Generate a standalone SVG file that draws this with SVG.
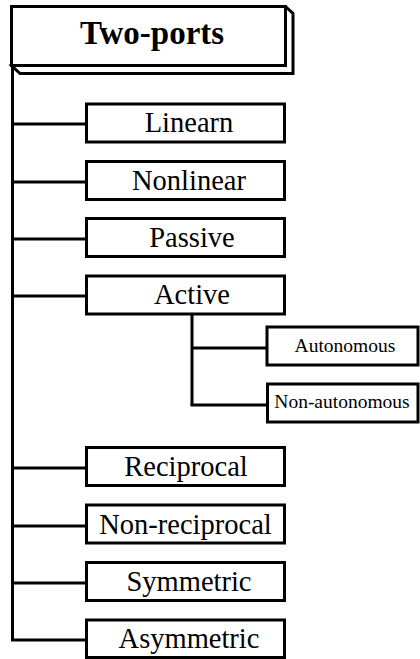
<svg xmlns="http://www.w3.org/2000/svg" width="420" height="659" viewBox="0 0 420 659">
  <style>
    .box { fill: #ffffff; stroke: #000000; stroke-width: 3; }
    .wire { fill: none; stroke: #000000; stroke-width: 3; }
    text { font-family: "Liberation Serif", "DejaVu Serif", serif; fill: #000000; text-anchor: middle; }
    .lbl { font-size: 28.5px; }
    .sub { font-size: 19.5px; }
    .head { font-size: 33px; font-weight: bold; }
  </style>
  <rect width="420" height="659" fill="#ffffff"/>

  <!-- connectors -->
  <g id="connectors">
    <path class="wire" d="M12.5,66 V640"/>
    <path class="wire" d="M12.5,124 H86"/>
    <path class="wire" d="M12.5,182 H86"/>
    <path class="wire" d="M12.5,239 H86"/>
    <path class="wire" d="M12.5,296 H86"/>
    <path class="wire" d="M12.5,468 H86"/>
    <path class="wire" d="M12.5,526 H86"/>
    <path class="wire" d="M12.5,583 H86"/>
    <path class="wire" d="M11,640 H86"/>
    <path class="wire" d="M192,314 V405"/>
    <path class="wire" d="M192,348 H266"/>
    <path class="wire" d="M190.5,405 H267"/>
  </g>

  <!-- root: bevelled box -->
  <g id="two-ports">
    <path class="box" d="M285.5,6.5 L293,13.5 V73.5 H20 L11.5,65.5 Z"/>
    <rect class="box" x="11.5" y="6.5" width="274" height="59"/>
    <text class="head" x="152" y="43.5" font-family="Liberation Serif, serif">Two-ports</text>
  </g>

  <g id="linearn">
    <rect class="box" x="86.5" y="104" width="198" height="38"/>
    <text class="lbl" x="189" y="132">Linearn</text>
  </g>
  <g id="nonlinear">
    <rect class="box" x="86.5" y="161.5" width="198" height="38"/>
    <text class="lbl" x="189" y="190">Nonlinear</text>
  </g>
  <g id="passive">
    <rect class="box" x="86.5" y="218.5" width="198" height="38"/>
    <text class="lbl" x="192" y="247">Passive</text>
  </g>
  <g id="active">
    <rect class="box" x="86.5" y="276" width="198" height="38"/>
    <text class="lbl" x="192" y="304">Active</text>
  </g>
  <g id="autonomous">
    <rect class="box" x="267" y="327" width="151" height="38"/>
    <text class="sub" x="345" y="352">Autonomous</text>
  </g>
  <g id="non-autonomous">
    <rect class="box" x="267.5" y="384" width="150.5" height="38"/>
    <text class="sub" x="342" y="407.5">Non-autonomous</text>
  </g>
  <g id="reciprocal">
    <rect class="box" x="86.5" y="447.5" width="198" height="38"/>
    <text class="lbl" x="186" y="476">Reciprocal</text>
  </g>
  <g id="non-reciprocal">
    <rect class="box" x="86.5" y="505" width="198" height="38"/>
    <text class="lbl" x="185.5" y="533.5">Non-reciprocal</text>
  </g>
  <g id="symmetric">
    <rect class="box" x="86.5" y="562.5" width="198" height="38"/>
    <text class="lbl" x="189" y="591">Symmetric</text>
  </g>
  <g id="asymmetric">
    <rect class="box" x="86.5" y="620" width="198" height="37.5"/>
    <text class="lbl" x="189" y="648">Asymmetric</text>
  </g>
</svg>
